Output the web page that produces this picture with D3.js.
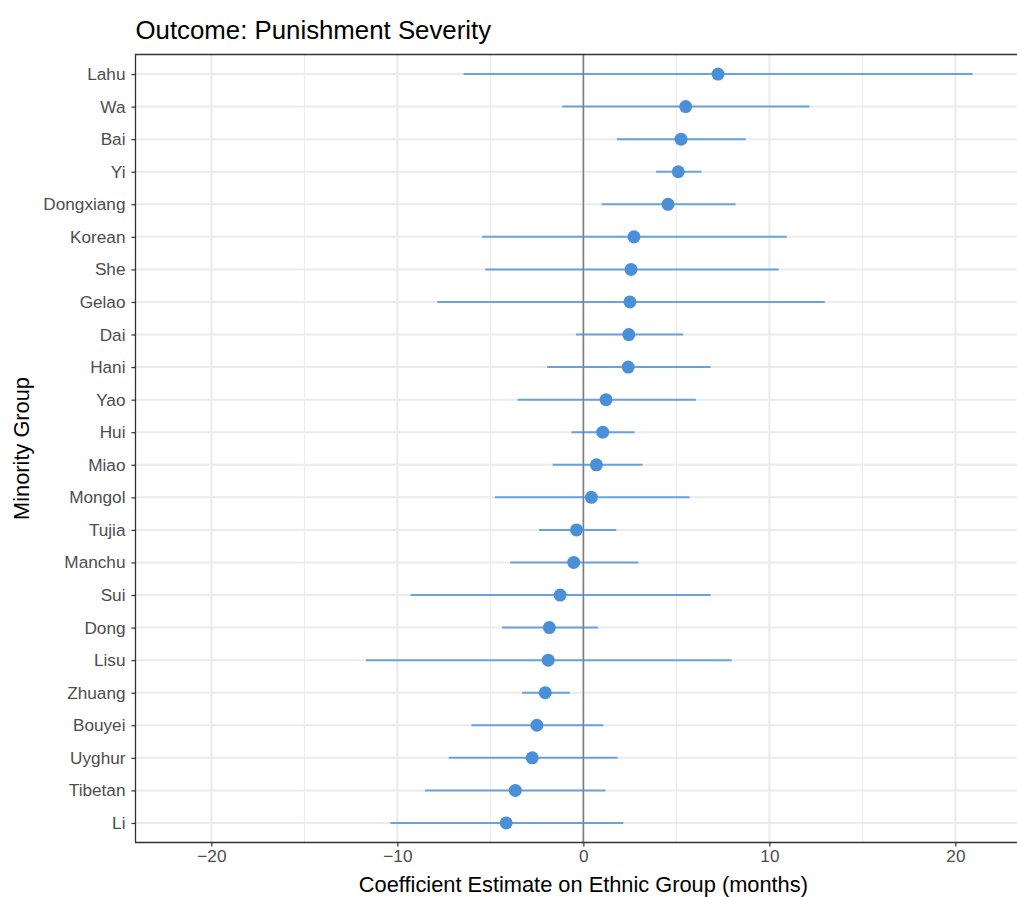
<!DOCTYPE html>
<html lang="en">
<head>
<meta charset="UTF-8">
<title>Outcome: Punishment Severity</title>
<script src="https://d3js.org/d3.v7.min.js"></script>
<style>
  body { margin: 0; background: #fff; font-family: 'Liberation Sans', Arial, sans-serif; }
  .tick text { fill: #4d4d4d; font-size: 17.2px; }
  .tick line { stroke: #333; }
  .domain { display: none; }
</style>
</head>
<body>
<div id="chart"></div>
<script>
// groups listed top to bottom
const groups = ["Lahu","Wa","Bai","Yi","Dongxiang","Korean","She","Gelao","Dai","Hani","Yao","Hui",
  "Miao","Mongol","Tujia","Manchu","Sui","Dong","Lisu","Zhuang","Bouyei","Uyghur","Tibetan","Li"];
const estimates = [7.24,5.50,5.25,5.10,4.55,2.72,2.56,2.50,2.44,2.41,1.22,1.04,
  0.70,0.43,-0.37,-0.52,-1.25,-1.83,-1.89,-2.05,-2.50,-2.75,-3.66,-4.15];
const lower = [-6.44,-1.13,1.80,3.91,0.98,-5.44,-5.28,-7.85,-0.40,-1.95,-3.54,-0.64,
  -1.65,-4.76,-2.38,-3.94,-9.28,-4.37,-11.69,-3.30,-6.02,-7.24,-8.52,-10.38];
const upper = [20.92,12.15,8.73,6.35,8.18,10.93,10.50,12.98,5.37,6.84,6.05,2.75,
  3.18,5.71,1.77,2.96,6.84,0.79,7.97,-0.73,1.07,1.83,1.19,2.14];
const majorTicks = [-20,-10,0,10,20];
const minorTicks = [-15,-5,5,15];

const W = 1017, H = 897;
const m = { top: 54.5, right: -2, bottom: 54.5, left: 135.5 };
const pw = W - m.left - m.right, ph = H - m.top - m.bottom;

const data = groups.map((g, i) => ({ g, est: estimates[i], lo: lower[i], hi: upper[i] }));

const svg = d3.select("#chart").append("svg").attr("width", W).attr("height", H);
const g = svg.append("g").attr("transform", `translate(${m.left},${m.top})`);

const x = d3.scaleLinear().domain([-24.08, 23.42]).range([0, pw]);
const y = d3.scalePoint().domain(groups).range([0, ph]).padding(0.6);

// grid
g.selectAll(".minor").data(minorTicks).enter().append("line")
  .attr("x1", d => x(d)).attr("x2", d => x(d)).attr("y1", 0).attr("y2", ph)
  .attr("stroke", "#ebebeb").attr("stroke-width", 1);
g.selectAll(".major").data(majorTicks).enter().append("line")
  .attr("x1", d => x(d)).attr("x2", d => x(d)).attr("y1", 0).attr("y2", ph)
  .attr("stroke", "#ebebeb").attr("stroke-width", 2);
g.selectAll(".hgrid").data(groups).enter().append("line")
  .attr("x1", 0).attr("x2", pw).attr("y1", d => y(d)).attr("y2", d => y(d))
  .attr("stroke", "#ebebeb").attr("stroke-width", 2);

// zero line
g.append("line").attr("x1", x(0)).attr("x2", x(0)).attr("y1", 0).attr("y2", ph)
  .attr("stroke", "#7f7f7f").attr("stroke-width", 1.6);

// intervals
g.selectAll(".ci").data(data).enter().append("line")
  .attr("x1", d => x(d.lo)).attr("x2", d => x(d.hi))
  .attr("y1", d => y(d.g)).attr("y2", d => y(d.g))
  .attr("stroke", "#4a90d9").attr("stroke-opacity", 0.8).attr("stroke-width", 2);

// points
g.selectAll(".pt").data(data).enter().append("circle")
  .attr("cx", d => x(d.est)).attr("cy", d => y(d.g)).attr("r", 6.5)
  .attr("fill", "#4a90d9");

// panel border (right edge is off-canvas)
g.append("path").attr("d", `M${pw},0H0V${ph}H${pw}`)
  .attr("fill", "none").attr("stroke", "#333").attr("stroke-width", 1.3);

// axes
g.append("g").attr("transform", `translate(0,${ph})`)
  .call(d3.axisBottom(x).tickValues(majorTicks).tickSize(4).tickPadding(3)
    .tickFormat(d => d < 0 ? "\u2212" + Math.abs(d) : d));
g.append("g")
  .call(d3.axisLeft(y).tickSize(4).tickPadding(6));
g.selectAll(".tick line").attr("stroke-width", 1.2);

// titles
svg.append("text").attr("x", m.left).attr("y", 39)
  .attr("font-size", 25.8).attr("fill", "#000").text("Outcome: Punishment Severity");
svg.append("text").attr("x", m.left + x(0)).attr("y", 892)
  .attr("text-anchor", "middle").attr("font-size", 21.8).attr("fill", "#000")
  .text("Coefficient Estimate on Ethnic Group (months)");
svg.append("text").attr("transform", `translate(29,${m.top + ph / 2}) rotate(-90)`)
  .attr("text-anchor", "middle").attr("font-size", 21.8).attr("fill", "#000")
  .text("Minority Group");
</script>
</body>
</html>
